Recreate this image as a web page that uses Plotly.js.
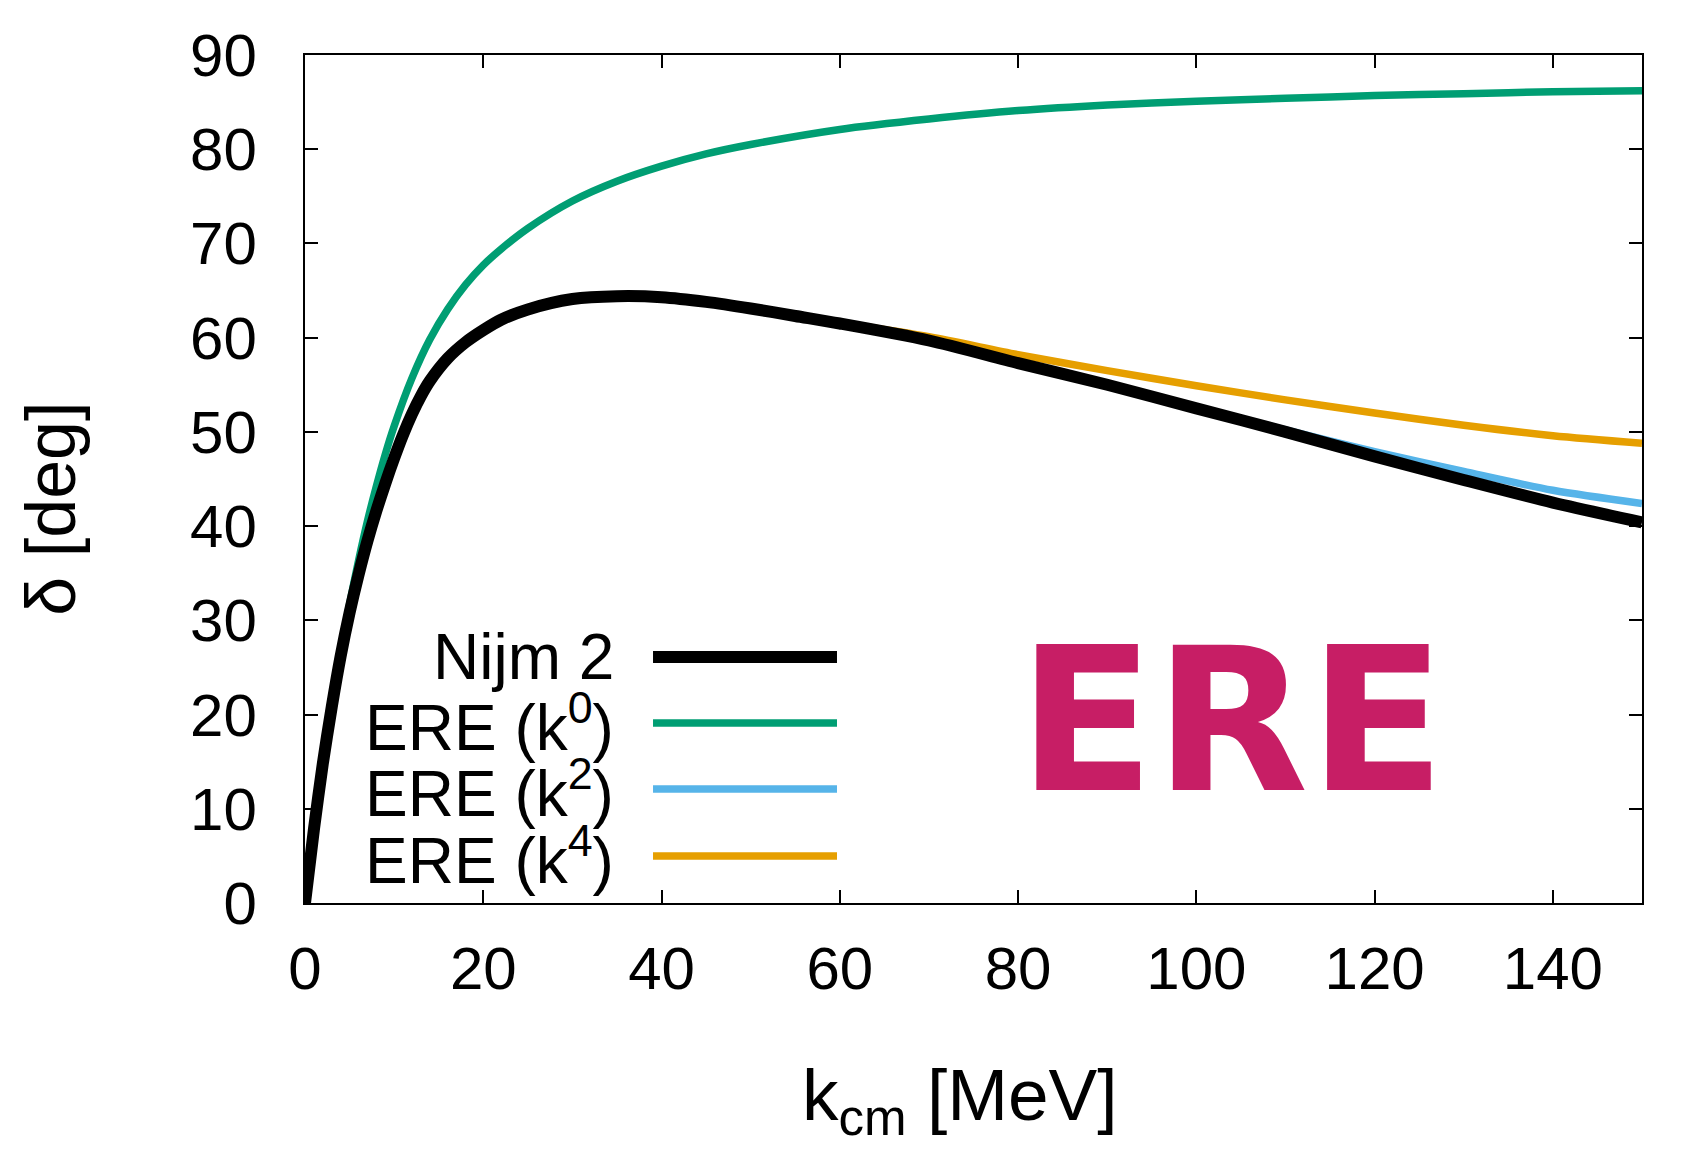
<!DOCTYPE html>
<html>
<head>
<meta charset="utf-8">
<script src="https://cdn.plot.ly/plotly-3.0.1.min.js"></script>
<style>
  html, body { margin: 0; padding: 0; background: #ffffff; }
  #chart { width: 1707px; height: 1173px; }
</style>
</head>
<body>
<div id="chart"></div>
<script>
// ---- data ----
const kNijm = [0,1,2,3,4,5,6,7,8,9,10,11,12,13,14,16,18,20,22,25,30,35,40,45,50,55,60,70,80,90,100,110,120,130,140,150];
const deltaNijm = [0,7.8,14.8,20.8,26.2,30.8,34.8,38.4,41.6,44.5,47.2,49.7,51.9,53.8,55.4,57.8,59.5,60.8,61.9,63,64.1,64.4,64.3,63.8,63.1,62.3,61.5,59.7,57.3,55,52.5,50,47.4,44.9,42.5,40.4];

const kEre0 = [0,1,2,3,4,5,6,7,8,9,10,12,14,16,18,20,22,25,30,35,40,45,50,60,70,80,90,100,110,120,130,140,150];
const deltaEre0 = [0,7.8,14.8,21,26.7,31.7,36.3,40.5,44.2,47.6,50.6,55.7,59.8,63,65.6,67.7,69.4,71.6,74.5,76.6,78.2,79.5,80.5,82.1,83.2,84.1,84.7,85.1,85.4,85.7,85.9,86.1,86.2];

const kEre2 = [0,1,2,3,4,5,6,7,8,9,10,11,12,13,14,16,18,20,22,25,30,35,40,45,50,55,60,70,80,90,100,110,120,130,140,150];
const deltaEre2 = [0,7.8,14.8,20.8,26.2,30.8,34.8,38.4,41.6,44.5,47.2,49.7,51.9,53.8,55.4,57.8,59.5,60.8,61.9,63,64.1,64.4,64.3,63.8,63.1,62.3,61.5,59.7,57.3,55,52.6,50.2,47.9,45.8,43.8,42.4];

const kEre4 = [0,1,2,3,4,5,6,7,8,9,10,11,12,13,14,16,18,20,22,25,30,35,40,45,50,55,60,70,80,90,100,110,120,130,140,150];
const deltaEre4 = [0,7.8,14.8,20.8,26.2,30.8,34.8,38.4,41.6,44.5,47.2,49.7,51.9,53.8,55.4,57.8,59.5,60.8,61.9,63,64.1,64.4,64.3,63.8,63.1,62.3,61.6,60.1,58.2,56.5,54.9,53.4,52,50.7,49.6,48.8];

const seriesNames = ["Nijm 2", "ERE (k<sup>0</sup>)", "ERE (k<sup>2</sup>)", "ERE (k<sup>4</sup>)"];
const seriesColors = ["#000000", "#009E73", "#56B4E9", "#E69F00"];
const xTicks = [0,20,40,60,80,100,120,140];
const yTicks = [0,10,20,30,40,50,60,70,80,90];
const xTitle = "k<sub>cm</sub> [MeV]";
const yTitle = "δ [deg]";
const stampText = "ERE";

// ---- traces (drawn so that Nijm 2 ends up on top) ----
const FONT = "Liberation Sans, Arial, Helvetica, sans-serif";
const THIN = 7.5, THICK = 12;
const traces = [
  {x: kEre0, y: deltaEre0, name: seriesNames[1], line: {color: seriesColors[1], width: THIN}},
  {x: kEre2, y: deltaEre2, name: seriesNames[2], line: {color: seriesColors[2], width: THIN}},
  {x: kEre4, y: deltaEre4, name: seriesNames[3], line: {color: seriesColors[3], width: THIN}},
  {x: kNijm, y: deltaNijm, name: seriesNames[0], line: {color: seriesColors[0], width: THICK}}
].map(t => Object.assign({type: "scatter", mode: "lines", hoverinfo: "skip", cliponaxis: true}, t));
traces.forEach(t => { t.line.shape = "spline"; t.line.smoothing = 0.8; });

// ---- legend drawn gnuplot-style (text right-aligned, sample to the right) ----
const legendRowsY = [0.2901, 0.2123, 0.1344, 0.0554];
const legendOrder = [0, 1, 2, 3];
const legendWidths = [THICK, THIN, THIN, THIN];
const annotations = [];
const shapes = [];
legendOrder.forEach((s, i) => {
  annotations.push({
    xref: "paper", yref: "paper", x: 0.2325, y: legendRowsY[i],
    xanchor: "right", yanchor: "middle", showarrow: false,
    text: seriesNames[s], font: {family: FONT, size: 64, color: "#000"}
  });
  shapes.push({
    type: "line", xref: "paper", yref: "paper",
    x0: 0.2603, x1: 0.3979, y0: legendRowsY[i], y1: legendRowsY[i],
    line: {color: seriesColors[s], width: legendWidths[i]}
  });
});

// axis titles
annotations.push({
  xref: "paper", yref: "paper", x: 0.49, y: -0.232, xanchor: "center", yanchor: "middle",
  showarrow: false, text: xTitle, font: {family: FONT, size: 73, color: "#000"}
});
annotations.push({
  xref: "paper", yref: "paper", x: -0.19, y: 0.465, xanchor: "center", yanchor: "middle",
  showarrow: false, textangle: -90, text: yTitle, font: {family: FONT, size: 70, color: "#000"}
});
// magenta stamp
annotations.push({
  xref: "paper", yref: "paper", x: 0.693, y: 0.215, xanchor: "center", yanchor: "middle",
  showarrow: false, text: "<b>" + stampText + "</b>",
  font: {family: "DejaVu Sans, Liberation Sans, sans-serif", size: 200, color: "#C71E65"}
});

const axisCommon = {
  showgrid: false, zeroline: false, showline: true, linecolor: "#000", linewidth: 2.2,
  mirror: "ticks", ticks: "inside", ticklen: 13, tickwidth: 2, tickcolor: "#000",
  tickfont: {family: FONT, size: 60, color: "#000"}
};

const layout = {
  width: 1707, height: 1173,
  margin: {l: 305, r: 65, t: 55, b: 270},
  paper_bgcolor: "#ffffff", plot_bgcolor: "#ffffff",
  showlegend: false,
  xaxis: Object.assign({}, axisCommon, {range: [0, 150], tickvals: xTicks, ticktext: xTicks.map(String), ticklabelstandoff: 12}),
  yaxis: Object.assign({}, axisCommon, {range: [0, 90], tickvals: yTicks, ticktext: yTicks.map(String), ticklabelstandoff: 34}),
  annotations: annotations,
  shapes: shapes
};

Plotly.newPlot("chart", traces, layout, {displayModeBar: false, staticPlot: true});
</script>
</body>
</html>
